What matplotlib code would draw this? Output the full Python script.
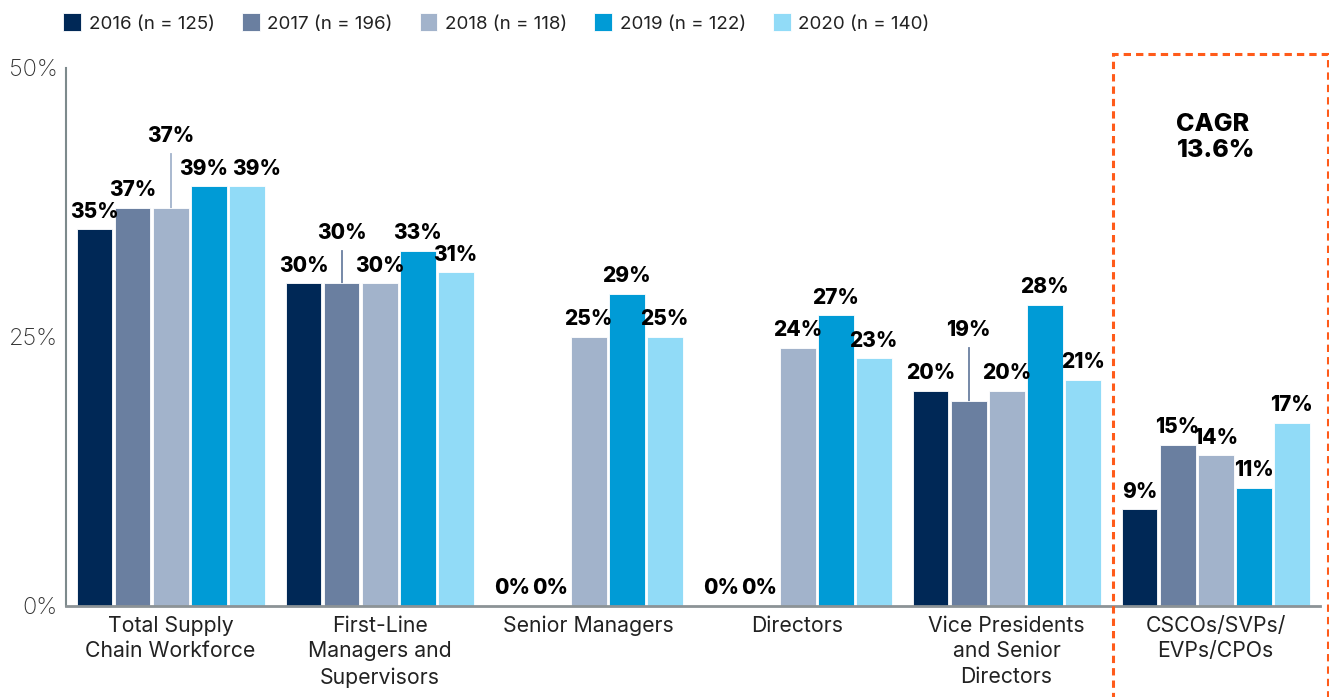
import matplotlib.pyplot as plt
import numpy as np
from matplotlib.patches import Rectangle

plt.rcParams["font.family"] = ["Inter", "DejaVu Sans"]

categories = [
    "Total Supply\nChain Workforce",
    "First-Line\nManagers and\nSupervisors",
    "Senior Managers",
    "Directors",
    "Vice Presidents\nand Senior\nDirectors",
    "CSCOs/SVPs/\nEVPs/CPOs",
]
series_names = [
    "2016 (n = 125)",
    "2017 (n = 196)",
    "2018 (n = 118)",
    "2019 (n = 122)",
    "2020 (n = 140)",
]
values_2016 = [35, 30, 0, 0, 20, 9]
values_2017 = [37, 30, 0, 0, 19, 15]
values_2018 = [37, 30, 25, 24, 20, 14]
values_2019 = [39, 33, 29, 27, 28, 11]
values_2020 = [39, 31, 25, 23, 21, 17]
cagr_text = "CAGR\n13.6%"

colors = ["#002856", "#6A7FA0", "#A2B3CB", "#009BD6", "#91DBF7"]
# labels lifted above their neighbours with a leader line: (series, group) -> extra height
label_lift = {(2, 0): 5.0, (1, 1): 3.0, (1, 4): 5.0}
# small sideways nudges so neighbouring labels don't collide
label_nudge = {(3, 0): -0.022, (4, 0): 0.05}

all_values = [values_2016, values_2017, values_2018, values_2019, values_2020]

fig = plt.figure(figsize=(13.29, 6.97), dpi=100)
ax = fig.add_axes([0.0497, 0.1306, 0.9436, 0.772])

x = np.arange(len(categories))
pitch = 0.182
width = 0.172
for i, (name, vals, color) in enumerate(zip(series_names, all_values, colors)):
    pos = x + (i - 2) * pitch
    ax.bar(pos, vals, width=width, color=color, label=name, edgecolor="white",
           linewidth=0.6, zorder=2)
    for j, v in enumerate(vals):
        lift = label_lift.get((i, j), 0.0)
        ty = v + 0.7 + lift
        if lift:
            ax.plot([pos[j], pos[j]], [v, v + lift], color=color, lw=1.3, zorder=1)
        ax.text(pos[j] + label_nudge.get((i, j), 0.0), ty, f"{v}%", ha="center",
                va="bottom", fontsize=15, fontweight="heavy", color="black")

ax.set_xlim(-0.5, len(categories) - 0.5)
ax.set_ylim(0, 50)
ax.set_yticks([0, 25, 50])
ax.set_yticklabels(["0%", "25%", "50%"], fontsize=17, fontweight="light", color="#333333")
ax.set_xticks(x)
ax.set_xticklabels(categories, fontsize=15.3, color="#222222", linespacing=1.35)
ax.tick_params(axis="both", length=0)
ax.tick_params(axis="x", pad=7)
ax.tick_params(axis="y", pad=6)

for side in ["top", "right"]:
    ax.spines[side].set_visible(False)
ax.spines["left"].set_color("#7D8A8C")
ax.spines["left"].set_linewidth(1.5)
ax.spines["bottom"].set_color("#8C9396")
ax.spines["bottom"].set_linewidth(2)

# dashed highlight box around the last group
last = len(categories) - 1
box = Rectangle((last - 0.493, -20), 1.03, 71.3, fill=False, edgecolor="#FF5B1A",
                linewidth=2.2, linestyle=(0, (2.4, 1.65)), clip_on=False, zorder=3)
ax.add_patch(box)
ax.text(last, 43.5, cagr_text, ha="center", va="center", fontsize=18,
        fontweight="heavy", multialignment="left", linespacing=1.15)

handles, labels = ax.get_legend_handles_labels()
leg = fig.legend(handles, labels, loc="upper left", bbox_to_anchor=(0.035, 1.005),
                 ncol=5, frameon=False, fontsize=13.5, handlelength=0.95,
                 handleheight=1.1, handletextpad=0.4, columnspacing=1.45)
for t in leg.get_texts():
    t.set_color("#222222")

fig.savefig("out.png", dpi=100)
